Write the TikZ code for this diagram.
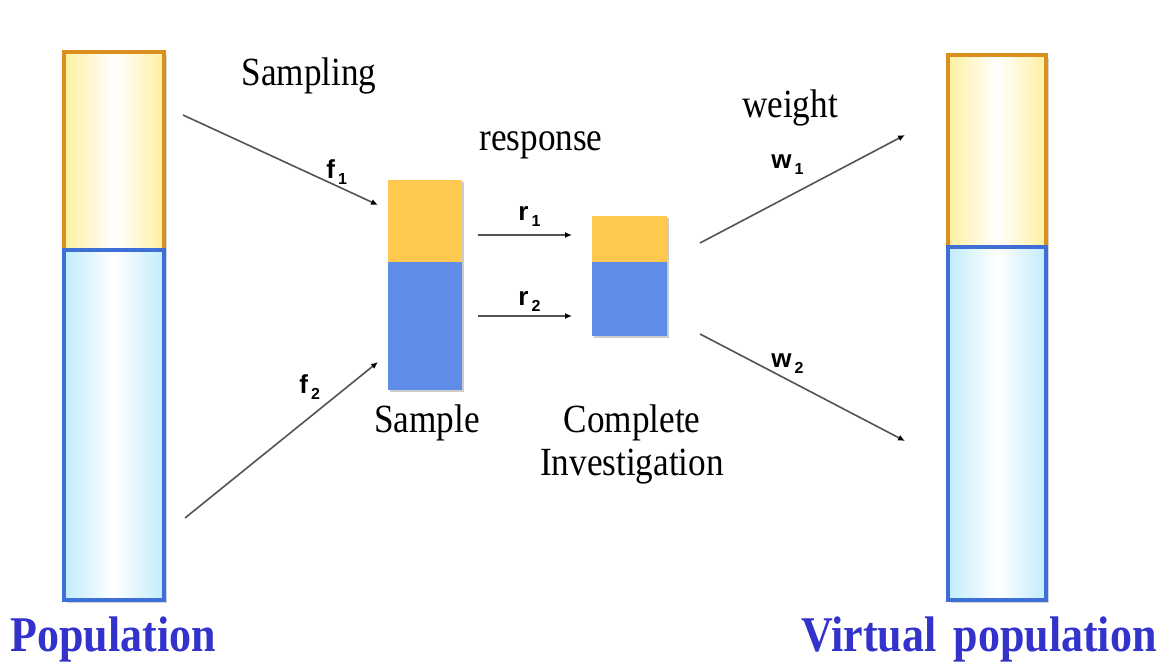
\documentclass[tikz,border=0pt]{standalone}
\usepackage{fontspec}
\setmainfont{Liberation Serif}[FakeStretch=0.88]
\newfontfamily\idxfont{Liberation Sans}
\usetikzlibrary{arrows.meta,shadows}

\definecolor{popyellow}{HTML}{FFF0A0}
\definecolor{popyellowdraw}{HTML}{D9901E}
\definecolor{popblue}{HTML}{C2ECFC}
\definecolor{popbluedraw}{HTML}{3D6FD6}
\definecolor{sampyellow}{HTML}{FFC94F}
\definecolor{sampblue}{HTML}{5F8DE8}
\definecolor{titleblue}{HTML}{3333CC}

\newcommand{\idx}[2]{{\idxfont\bfseries #1\hspace{1.5pt}\raisebox{-3pt}{\fontsize{8}{8}\selectfont #2}}}

\begin{document}
\begin{tikzpicture}[
	x=0.5pt, y=-0.5pt,
	bar/.style={
		rectangle,
		line width=2pt,
		inner sep=0pt,
		drop shadow={shadow xshift=1.5pt, shadow yshift=-1.5pt, fill=gray, opacity=0.35}
	},
	baryellow/.style={
		bar,
		draw=popyellowdraw,
		left color=popyellow,
		right color=popyellow,
		middle color=white
	},
	barblue/.style={
		bar,
		draw=popbluedraw,
		left color=popblue,
		right color=popblue,
		middle color=white
	},
	block/.style={
		rectangle,
		inner sep=0pt,
		drop shadow={shadow xshift=1pt, shadow yshift=-1pt, fill=gray, opacity=0.4}
	},
	caption/.style={
		anchor=base,
		inner sep=0pt,
		font=\fontsize{20}{21.5}\selectfont
	},
	title/.style={
		anchor=base,
		inner sep=0pt,
		text=titleblue,
		font=\fontsize{25}{27}\selectfont\bfseries
	},
	subidx/.style={
		anchor=base west,
		inner sep=0pt,
		font=\fontsize{13}{13}\selectfont
	},
	conn/.style={
		draw=gray!65!black,
		line width=0.8pt,
		-{Latex[length=3.5pt,width=3pt,black]}
	},
]

\useasboundingbox (0,0) rectangle (1176,664);

% population bars
\node[baryellow, minimum width=50pt, minimum height=99pt] (popy) at (114,151) {};
\node[barblue, minimum width=50pt, minimum height=175pt] (popb) at (114,425) {};
\node[baryellow, minimum width=49pt, minimum height=96pt] (virty) at (997,151) {};
\node[barblue, minimum width=49pt, minimum height=176.5pt] (virtb) at (997,423.5) {};

% sample and complete investigation
\node[block, fill=sampyellow, minimum width=37pt, minimum height=41pt] (sampy) at (425,221) {};
\node[block, fill=sampblue, minimum width=37pt, minimum height=64pt] (sampb) at (425,326) {};
\node[block, fill=sampyellow, minimum width=37.5pt, minimum height=23pt] (compy) at (629.5,239) {};
\node[block, fill=sampblue, minimum width=37.5pt, minimum height=37pt] (compb) at (629.5,299) {};

% labels
\node[caption] (sampling) at (309,85) {Sampling};
\node[caption] (response) at (541,150) {response};
\node[caption] (weight) at (790,117) {weight};
\node[caption] (samplelbl) at (427,432) {Sample};
\node[caption, align=center] (complbl) at (632,475) {Complete\\Investigation};
\node[title] (poplbl) at (113,651) {Population};
\node[title] (virtlbl) at (979,651) {Virtual\hspace{3pt} population};

\node[subidx] (f1) at (326,178) {\idx{f}{1}};
\node[subidx] (f2) at (299,393) {\idx{f}{2}};
\node[subidx] (r1) at (518,220) {\idx{r}{1}};
\node[subidx] (r2) at (518,305) {\idx{r}{2}};
\node[subidx] (w1) at (771,168) {\idx{w}{1}};
\node[subidx] (w2) at (771,367) {\idx{w}{2}};

% arrow ends
\coordinate (f1s) at (183,115);
\coordinate (f1e) at (378,205);
\coordinate (f2s) at (185,518);
\coordinate (f2e) at (378,362);
\coordinate (r1s) at (478,235);
\coordinate (r1e) at (572,235);
\coordinate (r2s) at (478,316);
\coordinate (r2e) at (572,316);
\coordinate (w1s) at (700,243);
\coordinate (w1e) at (905,135);
\coordinate (w2s) at (700,334);
\coordinate (w2e) at (905,441);

\foreach \a in {f1, f2, r1, r2, w1, w2}
	\draw[conn] (\a s) -- (\a e);

\end{tikzpicture}
\end{document}
